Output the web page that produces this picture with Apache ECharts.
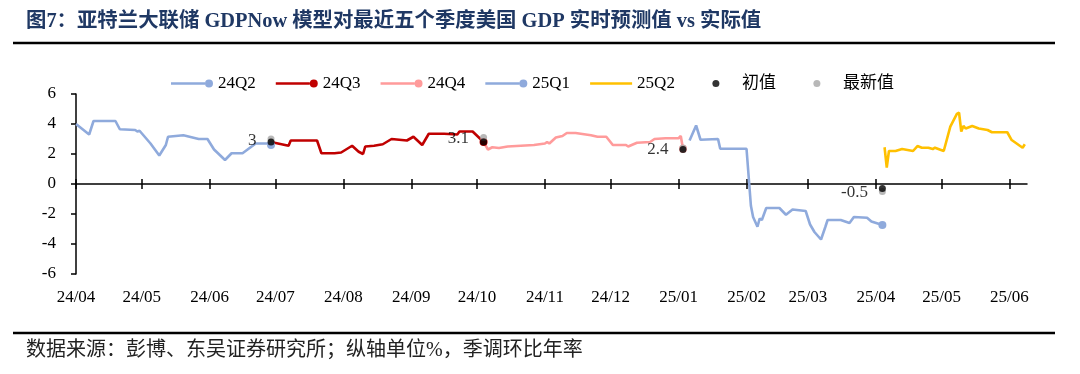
<!DOCTYPE html>
<html><head><meta charset="utf-8">
<script src="https://cdn.jsdelivr.net/npm/echarts@6/dist/echarts.min.js"></script>
<style>html,body{margin:0;padding:0;background:#fff}#c{width:1080px;height:374px}</style>
</head><body><div id="c"></div>
<script>
// ---- data ----
const tickDates = ['2024-04-01','2024-05-01','2024-06-01','2024-07-01','2024-08-01','2024-09-01','2024-10-01','2024-11-01','2024-12-01','2025-01-01','2025-02-01','2025-03-01','2025-04-01','2025-05-01','2025-06-01'];
const tickLabels = ['24/04','24/05','24/06','24/07','24/08','24/09','24/10','24/11','24/12','25/01','25/02','25/03','25/04','25/05','25/06'];
const axisStart = '2024-04-01';
const axisEnd = '2025-06-09';
const yTicks = [-6, -4, -2, 0, 2, 4, 6];

const q224Dates = ['2024-04-01','2024-04-07','2024-04-09','2024-04-19','2024-04-21','2024-04-28','2024-04-29','2024-04-30','2024-05-05','2024-05-09','2024-05-12','2024-05-13','2024-05-20','2024-05-27','2024-05-31','2024-06-03','2024-06-08','2024-06-11','2024-06-16','2024-06-22','2024-06-28','2024-06-29'];
const q224Values = [4.0,3.3,4.2,4.2,3.65,3.6,3.5,3.55,2.7,1.9,2.6,3.15,3.25,3.0,3.0,2.3,1.6,2.05,2.05,2.7,2.7,2.6];

const q324Dates = ['2024-06-29','2024-07-07','2024-07-08','2024-07-20','2024-07-22','2024-07-28','2024-07-31','2024-08-05','2024-08-08','2024-08-10','2024-08-11','2024-08-15','2024-08-19','2024-08-23','2024-08-30','2024-09-02','2024-09-06','2024-09-09','2024-09-16','2024-09-22','2024-09-23','2024-09-29','2024-10-04'];
const q324Values = [2.8,2.55,2.9,2.9,2.05,2.05,2.1,2.55,2.15,2.0,2.5,2.55,2.65,3.0,2.9,3.15,2.6,3.35,3.35,3.3,3.5,3.5,2.8];

const q424Dates = ['2024-10-04','2024-10-06','2024-10-08','2024-10-11','2024-10-15','2024-10-21','2024-10-27','2024-11-01','2024-11-02','2024-11-03','2024-11-06','2024-11-09','2024-11-11','2024-11-15','2024-11-22','2024-11-25','2024-11-29','2024-12-02','2024-12-08','2024-12-09','2024-12-13','2024-12-19','2024-12-21','2024-12-26','2025-01-01','2025-01-02','2025-01-03'];
const q424Values = [2.8,2.3,2.45,2.4,2.5,2.55,2.6,2.7,2.8,2.7,3.1,3.2,3.4,3.4,3.25,3.15,3.15,2.6,2.6,2.5,2.75,2.8,3.0,3.05,3.05,3.2,2.35];

const q125Dates = ['2025-01-06','2025-01-09','2025-01-11','2025-01-19','2025-01-20','2025-02-01','2025-02-03','2025-02-04','2025-02-06','2025-02-07','2025-02-08','2025-02-10','2025-02-16','2025-02-19','2025-02-22','2025-02-28','2025-03-02','2025-03-04','2025-03-07','2025-03-09','2025-03-10','2025-03-16','2025-03-20','2025-03-22','2025-03-28','2025-03-30','2025-04-04'];
const q125Values = [2.9,3.9,2.95,3.0,2.35,2.35,-1.45,-2.2,-2.85,-2.3,-2.4,-1.6,-1.6,-2.05,-1.7,-1.8,-2.7,-3.2,-3.7,-2.85,-2.4,-2.4,-2.6,-2.2,-2.25,-2.5,-2.73];

const q225Dates = ['2025-04-05','2025-04-06','2025-04-07','2025-04-10','2025-04-13','2025-04-18','2025-04-20','2025-04-22','2025-04-25','2025-04-27','2025-04-28','2025-05-02','2025-05-05','2025-05-08','2025-05-09','2025-05-10','2025-05-11','2025-05-12','2025-05-15','2025-05-18','2025-05-22','2025-05-24','2025-05-31','2025-06-02','2025-06-07','2025-06-08'];
const q225Values = [2.45,1.1,2.2,2.2,2.33,2.2,2.53,2.42,2.42,2.33,2.42,2.2,3.82,4.67,4.75,3.5,3.87,3.7,3.87,3.7,3.6,3.45,3.45,2.93,2.42,2.65];

const releaseDates = ['2024-06-29','2024-10-04','2025-01-03','2025-04-04'];
const initialValues = [2.8, 2.8, 2.3, -0.3];
const latestValues = [3.0, 3.1, 2.4, -0.5];

const seriesNames = ['24Q2','24Q3','24Q4','25Q1','25Q2'];
const seriesColors = ['#8FAADC','#C00000','#FF9B9B','#8FAADC','#FFC000'];

// ---- helpers ----
function ts(s) { const p = s.split('-').map(Number); return Date.UTC(p[0], p[1]-1, p[2]); }
function pairs(d, v) { return d.map((x, i) => [ts(x), v[i]]); }
const tickTs = tickDates.map(ts);
function fmtTick(v) { const i = tickTs.indexOf(v); return i >= 0 ? tickLabels[i] : ''; }

const SERIF = "'Liberation Serif','Noto Sans CJK SC',serif";
const lineData = [pairs(q224Dates,q224Values), pairs(q324Dates,q324Values), pairs(q424Dates,q424Values), pairs(q125Dates,q125Values), pairs(q225Dates,q225Values)];

const ICON_LINE_DOT = 'path://M0,2.75L34,2.75L34,5.25L0,5.25Z M42,4A4,4,0,1,1,34,4A4,4,0,1,1,42,4Z';
const ICON_LINE = 'path://M0,0M42,8M0,2.75L42,2.75L42,5.25L0,5.25Z';
const ICON_DOT = 'path://M0,0M42,8M24.5,4A3.5,3.5,0,1,1,17.5,4A3.5,3.5,0,1,1,24.5,4Z';

const series = lineData.map((d, k) => ({
  name: seriesNames[k], type: 'line', data: d, xAxisIndex: 0, yAxisIndex: 0,
  symbol: 'circle',
  symbolSize: (val, p) => (k < 4 && p.dataIndex === d.length - 1) ? 8 : 0,
  showSymbol: true,
  lineStyle: { color: seriesColors[k], width: 2.6 },
  itemStyle: { color: seriesColors[k], borderWidth: 0 },
  emphasis: { disabled: true }, silent: true, z: 2
}));
series.push({
  name: '最新值', type: 'scatter', symbol: 'circle', symbolSize: 7, z: 4,
  data: pairs(releaseDates, latestValues),
  itemStyle: { color: '#A6A6A6' },
  label: { show: true, position: 'left', distance: 11, offset: [0, 1.5],
           formatter: p => String(p.value[1]), fontFamily: SERIF, fontSize: 17, color: '#000' },
  emphasis: { disabled: true }, silent: true
});
series.push({
  name: '初值', type: 'scatter', symbol: 'circle', symbolSize: 7, z: 5,
  data: pairs(releaseDates, initialValues),
  itemStyle: { color: '#000' },
  emphasis: { disabled: true }, silent: true
});

const xBase = { type: 'value', min: ts(axisStart), max: ts(axisEnd), splitLine: { show: false }, gridIndex: 0, scale: true };

const option = {
  animation: false,
  backgroundColor: '#fff',
  title: [
    { text: '图7：亚特兰大联储 GDPNow 模型对最近五个季度美国 GDP 实时预测值 vs 实际值', left: 26, top: 12, padding: 0,
      textStyle: { fontFamily: SERIF, fontSize: 20.4, fontWeight: 'bold', color: '#1F3864' } },
    { text: '数据来源：彭博、东吴证券研究所；纵轴单位%，季调环比年率', left: 26, top: 341, padding: 0,
      textStyle: { fontFamily: SERIF, fontSize: 20, fontWeight: 'normal', color: '#222' } }
  ],
  graphic: [
    { type: 'line', shape: { x1: 13, y1: 43, x2: 1055, y2: 43 }, style: { stroke: '#000', lineWidth: 2.5 }, silent: true },
    { type: 'line', shape: { x1: 13, y1: 333, x2: 1055, y2: 333 }, style: { stroke: '#000', lineWidth: 2.5 }, silent: true }
  ],
  legend: {
    left: 171, top: 75, itemWidth: 42, itemHeight: 8, itemGap: 20, padding: 0,
    itemStyle: { borderWidth: 0 },
    textStyle: { fontFamily: SERIF, fontSize: 17, color: '#000', width: 40 },
    selectedMode: false,
    data: [
      { name: '24Q2', icon: ICON_LINE_DOT }, { name: '24Q3', icon: ICON_LINE_DOT },
      { name: '24Q4', icon: ICON_LINE_DOT }, { name: '25Q1', icon: ICON_LINE_DOT },
      { name: '25Q2', icon: ICON_LINE }, { name: '初值', icon: ICON_DOT }, { name: '最新值', icon: ICON_DOT }
    ]
  },
  grid: { left: 76, right: 53, top: 94, bottom: 100, containLabel: false },
  xAxis: [
    Object.assign({}, xBase, {
      position: 'bottom',
      axisLine: { show: false, onZero: false }, axisTick: { show: false },
      axisLabel: { show: true, customValues: tickTs, formatter: fmtTick, margin: 15, fontFamily: SERIF, fontSize: 17, color: '#000', hideOverlap: false }
    }),
    Object.assign({}, xBase, {
      position: 'bottom',
      axisLine: { show: true, onZero: true, onZeroAxisIndex: 0, lineStyle: { color: '#000', width: 1.5 } },
      axisTick: { show: true, customValues: tickTs, inside: false, length: 5, lineStyle: { color: '#000', width: 1.5 } },
      axisLabel: { show: false }
    }),
    Object.assign({}, xBase, {
      position: 'bottom',
      axisLine: { show: false, onZero: true, onZeroAxisIndex: 0 },
      axisTick: { show: true, customValues: tickTs, inside: true, length: 5, lineStyle: { color: '#000', width: 1.5 } },
      axisLabel: { show: false }
    })
  ],
  yAxis: [{
    type: 'value', min: yTicks[0], max: yTicks[yTicks.length-1], interval: 2,
    axisLine: { show: true, onZero: false, lineStyle: { color: '#000', width: 1.5 } },
    axisTick: { show: true, inside: false, length: 5, lineStyle: { color: '#000', width: 1.5 } },
    axisLabel: { margin: 20, fontFamily: SERIF, fontSize: 17, color: '#000' },
    splitLine: { show: false }
  }],
  series: series
};
const chart = echarts.init(document.getElementById('c'), null, { renderer: 'canvas' });
chart.setOption(option);
</script></body></html>
